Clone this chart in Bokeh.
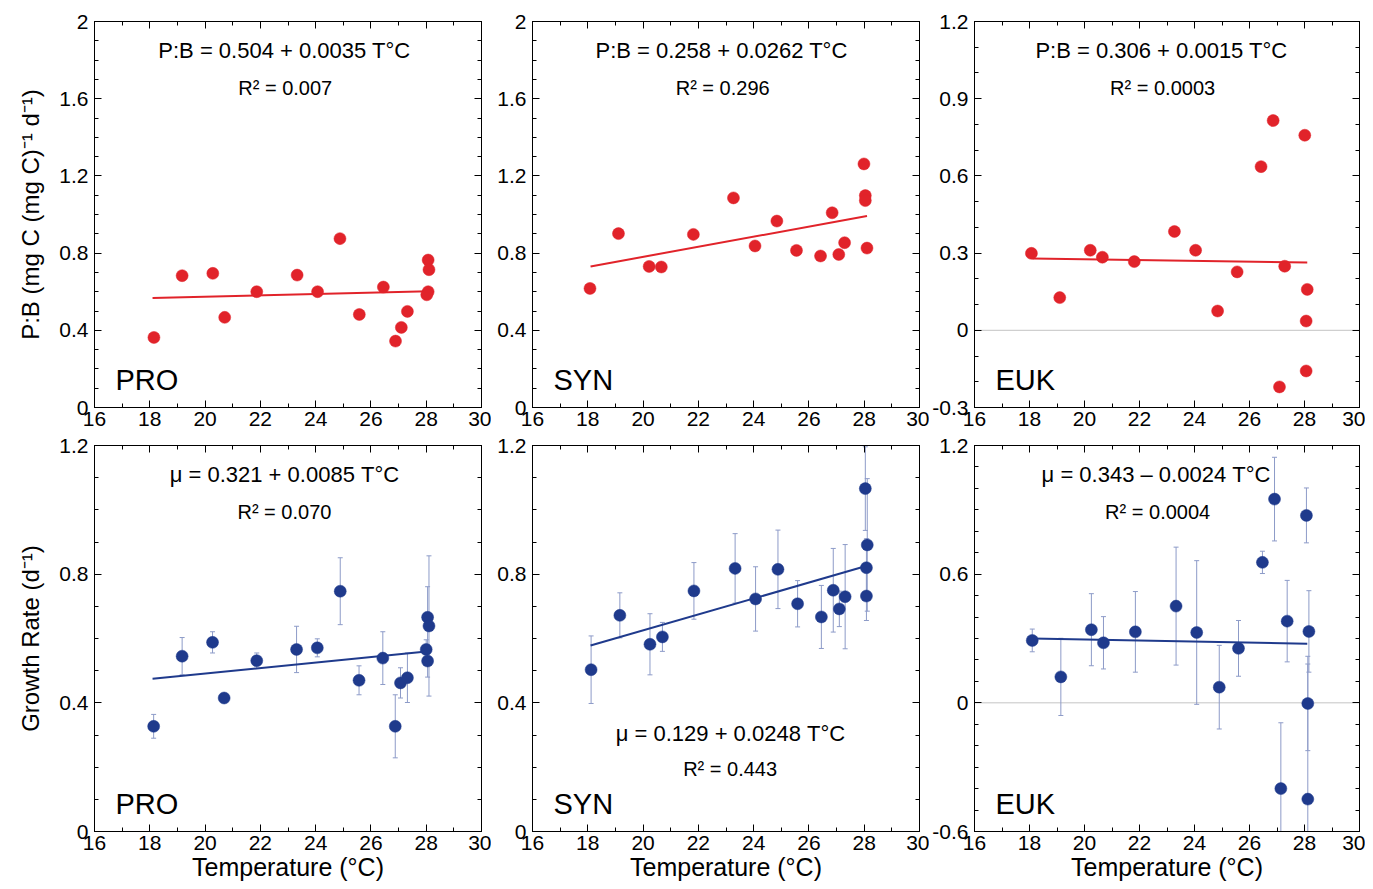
from bokeh.plotting import figure
from bokeh.layouts import column, row
from bokeh.models import FixedTicker, LinearAxis, Range1d, CustomJSTickFormatter, Span
from bokeh.core.properties import value
from bokeh.embed import file_html
from bokeh.resources import INLINE

FONT = "Liberation Sans"
RED = "#e1232a"
BLUE = "#1f3a8c"
ERRC = "#8d9bc8"

# ---------------- data ----------------
groups = ["PRO", "SYN", "EUK"]

# P:B vs temperature
temp_pb_pro = [18.15, 19.17, 20.28, 20.71, 21.87, 23.33, 24.07, 24.88, 25.58, 26.45, 26.89, 27.10, 27.32, 28.07, 28.10, 28.07, 28.02]
pb_pro = [0.363, 0.683, 0.695, 0.467, 0.600, 0.686, 0.600, 0.875, 0.482, 0.624, 0.344, 0.415, 0.498, 0.764, 0.714, 0.600, 0.584]

temp_pb_syn = [18.08, 19.11, 20.22, 20.66, 21.82, 23.27, 24.05, 24.84, 25.55, 26.42, 26.84, 27.08, 27.29, 27.99, 28.04, 28.04, 28.10]
pb_syn = [0.617, 0.901, 0.731, 0.728, 0.897, 1.086, 0.837, 0.966, 0.814, 0.785, 1.009, 0.793, 0.854, 1.262, 1.098, 1.072, 0.826]

temp_pb_euk = [18.07, 19.10, 20.21, 20.65, 21.81, 23.27, 24.04, 24.84, 25.55, 26.42, 26.86, 27.09, 27.28, 28.01, 28.10, 28.06, 28.06]
pb_euk = [0.299, 0.127, 0.311, 0.284, 0.267, 0.384, 0.311, 0.075, 0.227, 0.636, 0.815, -0.220, 0.249, 0.758, 0.159, 0.036, -0.158]

# Growth rate vs temperature (with +/- error)
temp_mu_pro = [18.14, 19.17, 20.27, 20.69, 21.87, 23.31, 24.06, 24.89, 25.57, 26.43, 26.88, 27.07, 27.32, 28.05, 28.10, 28.00, 28.05]
mu_pro = [0.327, 0.545, 0.588, 0.415, 0.531, 0.566, 0.571, 0.747, 0.470, 0.539, 0.327, 0.462, 0.478, 0.666, 0.639, 0.566, 0.530]
err_pro = [0.037, 0.058, 0.033, 0.010, 0.024, 0.072, 0.028, 0.104, 0.045, 0.082, 0.098, 0.047, 0.077, 0.095, 0.218, 0.030, 0.050]

temp_mu_syn = [18.12, 19.16, 20.25, 20.70, 21.84, 23.33, 24.07, 24.88, 25.59, 26.45, 26.88, 27.10, 27.31, 28.04, 28.11, 28.08, 28.08]
mu_syn = [0.503, 0.672, 0.582, 0.605, 0.748, 0.818, 0.723, 0.815, 0.708, 0.667, 0.750, 0.692, 0.730, 1.066, 0.891, 0.820, 0.732]
err_syn = [0.105, 0.070, 0.095, 0.045, 0.088, 0.108, 0.100, 0.122, 0.072, 0.098, 0.130, 0.055, 0.162, 0.130, 0.206, 0.090, 0.076]

temp_mu_euk = [18.10, 19.14, 20.25, 20.69, 21.85, 23.33, 24.08, 24.90, 25.60, 26.47, 26.91, 27.14, 27.37, 28.07, 28.16, 28.12, 28.12]
mu_euk = [0.291, 0.121, 0.341, 0.280, 0.331, 0.451, 0.328, 0.073, 0.254, 0.655, 0.950, -0.400, 0.381, 0.874, 0.333, -0.003, -0.449]
err_euk = [0.053, 0.180, 0.168, 0.122, 0.188, 0.275, 0.335, 0.195, 0.130, 0.052, 0.195, 0.307, 0.190, 0.128, 0.190, 0.220, 0.630]

# regression line end points (x from 18.1 to 28.1)
fit_x = [18.1, 28.1]
fit_pb_pro = [0.567, 0.602]
fit_pb_syn = [0.731, 0.992]
fit_pb_euk = [0.279, 0.263]
fit_mu_pro = [0.475, 0.560]
fit_mu_syn = [0.578, 0.826]
fit_mu_euk = [0.300, 0.276]

eq_pb = ["P:B = 0.504 + 0.0035 T°C", "P:B = 0.258 + 0.0262 T°C", "P:B = 0.306 + 0.0015 T°C"]
r2_pb = ["R² = 0.007", "R² = 0.296", "R² = 0.0003"]
eq_mu = ["μ = 0.321 + 0.0085 T°C", "μ = 0.129 + 0.0248 T°C", "μ = 0.343 – 0.0024 T°C"]
r2_mu = ["R² = 0.070", "R² = 0.443", "R² = 0.0004"]

x_ticks = [16, 18, 20, 22, 24, 26, 28, 30]
x_minor = list(range(16, 31))

ylabel_pb = "P:B (mg C (mg C)⁻¹ d⁻¹)"
ylabel_mu = "Growth Rate (d⁻¹)"
xlabel = "Temperature (°C)"

FMT = "return (Math.round(tick*1000)/1000).toString();"


def style_axis(ax, labels=True):
    ax.major_tick_in = 7
    ax.major_tick_out = 0
    ax.minor_tick_in = 4
    ax.minor_tick_out = 0
    ax.axis_line_color = "black"
    ax.major_tick_line_color = "black"
    ax.minor_tick_line_color = "black"
    if labels:
        ax.major_label_text_font = FONT
        ax.major_label_text_font_size = "21px"
        ax.major_label_text_color = "black"
        ax.axis_label_text_font = FONT
        ax.axis_label_text_font_style = "normal"
        ax.axis_label_text_color = "black"
    else:
        ax.major_label_text_font_size = "0px"
        ax.major_label_standoff = 0
        ax.formatter = CustomJSTickFormatter(code="return '';")


def panel(x, y, color, yr, ymaj, ymin, fit, eq, r2, grp, eq_pos, r2_pos,
          width, height, bl, br, bt, bb, err=None, ylabel=None, xlab=None, zero=False):
    lo, hi = yr
    p = figure(width=width, height=height, x_range=Range1d(16, 30), y_range=Range1d(lo, hi),
               output_backend="svg", toolbar_location=None,
               min_border_left=bl, min_border_right=br, min_border_top=bt, min_border_bottom=bb)
    p.xgrid.visible = False
    p.ygrid.visible = False
    p.outline_line_color = "black"
    p.outline_line_width = 1
    p.background_fill_color = "white"
    p.border_fill_color = "white"

    xt = FixedTicker(ticks=x_ticks, minor_ticks=x_minor)
    yt = FixedTicker(ticks=ymaj, minor_ticks=ymin)
    xa = p.xaxis[0]
    ya = p.yaxis[0]
    xa.ticker = xt
    ya.ticker = yt
    ya.formatter = CustomJSTickFormatter(code=FMT)
    style_axis(xa)
    style_axis(ya)
    xa.major_label_standoff = 4
    ya.major_label_standoff = 6
    if ylabel:
        ya.axis_label = ylabel
        ya.axis_label_text_font_size = "24px"
        ya.axis_label_standoff = 12
    if xlab:
        xa.axis_label = xlab
        xa.axis_label_text_font_size = "25px"
        xa.axis_label_standoff = 0

    ra = LinearAxis(ticker=FixedTicker(ticks=ymaj, minor_ticks=ymin))
    style_axis(ra, labels=False)
    p.add_layout(ra, "right")
    ta = LinearAxis(ticker=FixedTicker(ticks=x_ticks, minor_ticks=x_minor))
    style_axis(ta, labels=False)
    p.add_layout(ta, "above")

    if zero:
        p.add_layout(Span(location=0, dimension="width", line_color="#c4c4c4", line_width=1, level="underlay"))

    if err is not None:
        low = [a - e for a, e in zip(y, err)]
        upp = [a + e for a, e in zip(y, err)]
        p.segment(x0=x, y0=low, x1=x, y1=upp, line_color=ERRC, line_width=1)
        p.scatter(x=x + x, y=low + upp, marker="dash", size=5, line_color=ERRC, line_width=1)

    p.line(fit_x, fit, line_color=color, line_width=2)
    p.scatter(x=x, y=y, size=12, fill_color=color, line_color=color, line_width=0.5)

    span = hi - lo
    p.text(x=[eq_pos[0]], y=[lo + eq_pos[1] * span], text=[eq], text_font=value(FONT),
           text_font_size="22px", text_align="center", text_baseline="middle", text_color="black")
    p.text(x=[r2_pos[0]], y=[lo + r2_pos[1] * span], text=[r2], text_font=value(FONT),
           text_font_size="20px", text_align="center", text_baseline="middle", text_color="black")
    p.text(x=[16.76], y=[lo + 0.07 * span], text=[grp], text_font=value(FONT),
           text_font_size="29px", text_align="left", text_baseline="middle", text_color="black")
    return p


FW = 387
FH = 386
TOP_T, TOP_B = 21, 27
BOT_T, BOT_B = 11, 58
TOP_H = TOP_T + FH + TOP_B
BOT_H = BOT_T + FH + BOT_B
L1, L2, L3 = 94, 41, 43
R1, R2, R3 = 10, 10, 6

pb_minor = [round(0.1 * i, 1) for i in range(21)]
p1 = panel(temp_pb_pro, pb_pro, RED, (0, 2), [0, 0.4, 0.8, 1.2, 1.6, 2.0], pb_minor,
           fit_pb_pro, eq_pb[0], r2_pb[0], groups[0], (22.87, 0.925), (22.9, 0.829),
           L1 + FW + R1, TOP_H, L1, R1, TOP_T, TOP_B, ylabel=ylabel_pb)
p2 = panel(temp_pb_syn, pb_syn, RED, (0, 2), [0, 0.4, 0.8, 1.2, 1.6, 2.0], pb_minor,
           fit_pb_syn, eq_pb[1], r2_pb[1], groups[1], (22.84, 0.925), (22.88, 0.829),
           L2 + FW + R2, TOP_H, L2, R2, TOP_T, TOP_B)
p3 = panel(temp_pb_euk, pb_euk, RED, (-0.3, 1.2), [-0.3, 0, 0.3, 0.6, 0.9, 1.2],
           [round(-0.3 + 0.1 * i, 1) for i in range(16)],
           fit_pb_euk, eq_pb[2], r2_pb[2], groups[2], (22.8, 0.925), (22.84, 0.829),
           L3 + FW + R3, TOP_H, L3, R3, TOP_T, TOP_B, zero=True)

mu_minor = [round(0.1 * i, 1) for i in range(13)]
p4 = panel(temp_mu_pro, mu_pro, BLUE, (0, 1.2), [0, 0.4, 0.8, 1.2], mu_minor,
           fit_mu_pro, eq_mu[0], r2_mu[0], groups[0], (22.87, 0.925), (22.87, 0.829),
           L1 + FW + R1, BOT_H, L1, R1, BOT_T, BOT_B, err=err_pro, ylabel=ylabel_mu, xlab=xlabel)
p5 = panel(temp_mu_syn, mu_syn, BLUE, (0, 1.2), [0, 0.4, 0.8, 1.2], mu_minor,
           fit_mu_syn, eq_mu[1], r2_mu[1], groups[1], (23.16, 0.254), (23.15, 0.161),
           L2 + FW + R2, BOT_H, L2, R2, BOT_T, BOT_B, err=err_syn, xlab=xlabel)
p6 = panel(temp_mu_euk, mu_euk, BLUE, (-0.6, 1.2), [-0.6, 0, 0.6, 1.2],
           [round(-0.6 + 0.1 * i, 1) for i in range(19)],
           fit_mu_euk, eq_mu[2], r2_mu[2], groups[2], (22.6, 0.925), (22.66, 0.829),
           L3 + FW + R3, BOT_H, L3, R3, BOT_T, BOT_B, err=err_euk, xlab=xlabel, zero=True)

layout = column(row(p1, p2, p3, spacing=0), row(p4, p5, p6, spacing=0), spacing=0)

open("out.html", "w").write(file_html(layout, INLINE))
